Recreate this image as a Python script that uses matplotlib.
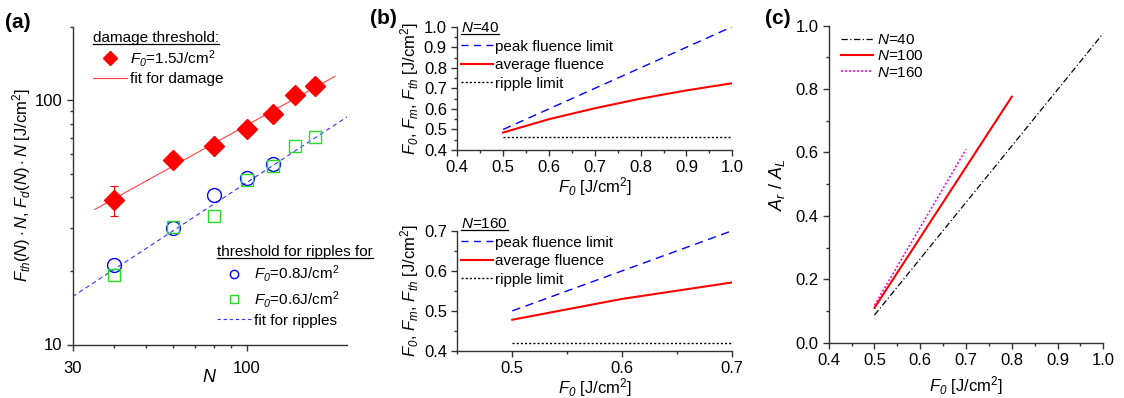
import numpy as np
import matplotlib
matplotlib.use("Agg")
import matplotlib.pyplot as plt
from matplotlib.lines import Line2D
from matplotlib.ticker import MultipleLocator, NullFormatter, FixedLocator, FixedFormatter, FormatStrFormatter

plt.rcParams['font.family'] = ['Liberation Sans', 'DejaVu Sans']
plt.rcParams['mathtext.fontset'] = 'custom'
plt.rcParams['mathtext.rm'] = 'Liberation Sans'
plt.rcParams['mathtext.it'] = 'Liberation Sans:italic'
plt.rcParams['mathtext.sf'] = 'Liberation Sans:italic'
plt.rcParams['mathtext.bf'] = 'Liberation Sans:bold'
plt.rcParams['font.size'] = 11

# panel (a) data
N_pts = [40, 60, 80, 100, 120, 140, 160]
F_damage = [39, 57, 65, 76.5, 88, 105, 114]
F_damage_err = [5.5, 4, 2.5, 2.5, 2.5, 2.5, 2.5]
N_r08 = [40, 60, 80, 100, 120]
F_r08 = [21.2, 30, 41, 47.8, 54.7]
N_r06 = [40, 60, 80, 100, 120, 140, 160]
F_r06 = [19.3, 30.2, 33.5, 47.3, 53.8, 64.7, 70.3]
fit_dmg_N = [35, 184]
fit_dmg_F = [35.7, 125]
fit_rip_N = [30, 200]
fit_rip_F = [15.7, 85.3]

# panel (b) data
F0_40 = [0.5, 0.6, 0.7, 0.8, 0.9, 1.0]
peak_40 = [0.5, 0.6, 0.7, 0.8, 0.9, 1.0]
avg_40 = [0.485, 0.55, 0.603, 0.65, 0.69, 0.725]
ripple_40 = [0.465, 0.465, 0.465, 0.465, 0.465, 0.465]
F0_160 = [0.5, 0.6, 0.7]
peak_160 = [0.5, 0.6, 0.7]
avg_160 = [0.478, 0.53, 0.571]
ripple_160 = [0.42, 0.42, 0.42]

# panel (c) data
F0_c40 = [0.5, 1.0]
A_c40 = [0.087, 0.976]
F0_c100 = [0.5, 0.8]
A_c100 = [0.11, 0.776]
F0_c160 = [0.5, 0.7]
A_c160 = [0.118, 0.61]

W, H = 1124, 398
fig = plt.figure(figsize=(W / 100, H / 100), dpi=100)


def px_axes(left, top, right, bottom):
    return fig.add_axes([left / W, 1 - bottom / H, (right - left) / W, (bottom - top) / H])


def style(ax):
    for s in ['top', 'right']:
        ax.spines[s].set_visible(False)
    for s in ['left', 'bottom']:
        ax.spines[s].set_linewidth(1.0)
        ax.spines[s].set_color('#333333')
    ax.tick_params(which='major', direction='out', length=4, width=1.0, colors='#333333',
                   labelcolor='black', labelsize=12)
    ax.tick_params(which='minor', direction='out', length=2.5, width=1.0, colors='#333333')


def put_legend(ax, handles, labels, left, top, title=None, **kw):
    # legend placed by its top-left corner, in figure pixels
    opts = dict(loc='upper left', bbox_to_anchor=(left / W, 1 - top / H),
                bbox_transform=fig.transFigure, frameon=False, fontsize=11,
                borderpad=0, borderaxespad=0, alignment='left')
    opts.update(kw)
    return ax.legend(handles, labels, title=title, title_fontsize=11, **opts)


FJ = r'[J/cm$^2$]'
F0 = r'$F_{\mathsf{0}}$'
legends = []

# ---------------- (a) ----------------
ax = px_axes(72.5, 26.5, 347, 344.5)
style(ax)
ax.set_xscale('log')
ax.set_yscale('log')
ax.errorbar(N_pts, F_damage, yerr=F_damage_err, fmt='none', ecolor='red', elinewidth=0.8,
            capsize=3, capthick=0.8)
ax.plot(fit_dmg_N, fit_dmg_F, '-', color='#ff4040', lw=0.8)
ax.plot(fit_rip_N, fit_rip_F, '--', color='#3333ff', lw=0.8, dashes=(4, 3))
ax.plot(N_pts, F_damage, 'D', color='red', ms=10, mec='red')
ax.plot(N_r08, F_r08, 'o', mfc='none', mec='blue', ms=10, mew=1.0)
ax.plot(N_r06, F_r06, 's', mfc='none', mec='#22dd22', ms=9, mew=1.0)
ax.set_xlim(30, 200)
ax.set_ylim(10, 200)
ax.xaxis.set_major_locator(FixedLocator([30, 100]))
ax.xaxis.set_major_formatter(FixedFormatter(['30', '100']))
ax.xaxis.set_minor_locator(FixedLocator([40, 50, 60, 70, 80, 90]))
ax.xaxis.set_minor_formatter(NullFormatter())
ax.yaxis.set_major_locator(FixedLocator([10, 100]))
ax.yaxis.set_major_formatter(FixedFormatter(['10', '100']))
ax.yaxis.set_minor_locator(FixedLocator([20, 30, 40, 50, 60, 70, 80, 90, 200]))
ax.yaxis.set_minor_formatter(NullFormatter())
ax.tick_params(axis='x', which='major', pad=8)
ax.set_xlabel(r'$N$', fontsize=13, labelpad=-5)
ax.set_ylabel(r'$F_{th}(N)\cdot N$, $F_d(N)\cdot N$ ' + FJ, fontsize=12, labelpad=1)

h1 = [Line2D([], [], marker='D', ls='none', color='red', ms=7),
      Line2D([], [], color='#ff4040', lw=0.8)]
leg1 = put_legend(ax, h1, [F0 + r'=1.5J/cm$^2$', 'fit for damage'], 93, 31,
                  title='damage threshold:', handlelength=2.2, handletextpad=0.2,
                  labelspacing=0.2)
ax.add_artist(leg1)
legends.append(leg1)
h2 = [Line2D([], [], marker='o', ls='none', mfc='none', mec='blue', ms=6),
      Line2D([], [], marker='s', ls='none', mfc='none', mec='#22dd22', ms=5.5),
      Line2D([], [], ls='--', color='#3333ff', lw=0.8, dashes=(3, 2.5))]
leg2 = put_legend(ax, h2, [F0 + r'=0.8J/cm$^2$', F0 + r'=0.6J/cm$^2$', 'fit for ripples'],
                  217, 245, title='threshold for ripples for', handlelength=2.2,
                  handletextpad=0.2, labelspacing=0.28)
legends.append(leg2)
fig.text(5 / W, 1 - 22 / H, '(a)', fontsize=15, fontweight='bold', va='center')

# ---------------- (b) top ----------------
ylab_b = F0 + r', $F_m$, $F_{th}$ ' + FJ
axb = px_axes(457.3, 26.7, 732.3, 150)
style(axb)
axb.plot(F0_40, peak_40, color='blue', lw=1.0, dashes=(6, 4))
axb.plot(F0_40, avg_40, color='red', lw=1.5)
axb.plot(F0_40, ripple_40, color='black', lw=1.0, dashes=(1.5, 1.5))
axb.set_xlim(0.4, 1.0)
axb.set_ylim(0.4, 1.0)
axb.xaxis.set_major_locator(MultipleLocator(0.1))
axb.xaxis.set_minor_locator(MultipleLocator(0.05))
axb.yaxis.set_major_locator(MultipleLocator(0.1))
axb.yaxis.set_minor_locator(MultipleLocator(0.05))
axb.xaxis.set_major_formatter(FormatStrFormatter('%.1f'))
axb.yaxis.set_major_formatter(FormatStrFormatter('%.1f'))
axb.set_xlabel(F0 + ' ' + FJ, fontsize=12, labelpad=0)
axb.set_ylabel(ylab_b, fontsize=12, labelpad=2)
hb = [Line2D([], [], color='blue', lw=1.0, dashes=(5, 4)),
      Line2D([], [], color='red', lw=1.5),
      Line2D([], [], color='black', lw=1.0, dashes=(1.5, 1.5))]
lb = ['peak fluence limit', 'average fluence', 'ripple limit']
legb = put_legend(axb, hb, lb, 461, 21, title=r'$N$=40', handlelength=2.1,
                  handletextpad=0.15, labelspacing=0.3)
legends.append(legb)
fig.text(370 / W, 1 - 18 / H, '(b)', fontsize=15, fontweight='bold', va='center')

# ---------------- (b) bottom ----------------
axb2 = px_axes(457.3, 230.7, 732.3, 351)
style(axb2)
axb2.plot(F0_160, peak_160, color='blue', lw=1.0, dashes=(6, 4))
axb2.plot(F0_160, avg_160, color='red', lw=1.5)
axb2.plot(F0_160, ripple_160, color='black', lw=1.0, dashes=(1.5, 1.5))
axb2.set_xlim(0.45, 0.7)
axb2.set_ylim(0.4, 0.7)
axb2.xaxis.set_major_locator(MultipleLocator(0.1))
axb2.xaxis.set_minor_locator(MultipleLocator(0.05))
axb2.yaxis.set_major_locator(MultipleLocator(0.1))
axb2.yaxis.set_minor_locator(MultipleLocator(0.05))
axb2.xaxis.set_major_formatter(FormatStrFormatter('%.1f'))
axb2.yaxis.set_major_formatter(FormatStrFormatter('%.1f'))
axb2.set_xlabel(F0 + ' ' + FJ, fontsize=12, labelpad=0)
axb2.set_ylabel(ylab_b, fontsize=12, labelpad=2)
legb2 = put_legend(axb2, hb, lb, 461, 217, title=r'$N$=160', handlelength=2.1,
                   handletextpad=0.15, labelspacing=0.3)
legends.append(legb2)

# ---------------- (c) ----------------
axc = px_axes(828.7, 25.7, 1103.3, 342.7)
style(axc)
axc.plot(F0_c40, A_c40, color='black', lw=0.9, dashes=(5, 2, 1, 2))
axc.plot(F0_c100, A_c100, color='red', lw=1.5)
axc.plot(F0_c160, A_c160, color='magenta', lw=1.2, dashes=(1.2, 1.2))
axc.set_xlim(0.4, 1.0)
axc.set_ylim(0.0, 1.0)
axc.xaxis.set_major_locator(MultipleLocator(0.1))
axc.xaxis.set_minor_locator(MultipleLocator(0.05))
axc.yaxis.set_major_locator(MultipleLocator(0.2))
axc.yaxis.set_minor_locator(MultipleLocator(0.1))
axc.xaxis.set_major_formatter(FormatStrFormatter('%.1f'))
axc.yaxis.set_major_formatter(FormatStrFormatter('%.1f'))
axc.set_xlabel(F0 + ' ' + FJ, fontsize=12, labelpad=4)
axc.set_ylabel(r'$A_r$ / $A_L$', fontsize=13, labelpad=6)
hc = [Line2D([], [], color='black', lw=0.9, dashes=(5, 2, 1, 2)),
      Line2D([], [], color='red', lw=1.5),
      Line2D([], [], color='magenta', lw=1.2, dashes=(1.2, 1.2))]
put_legend(axc, hc, [r'$N$=40', r'$N$=100', r'$N$=160'], 841, 33,
           handlelength=2.1, handletextpad=0.25, labelspacing=0.15)
fig.text(765 / W, 1 - 18 / H, '(c)', fontsize=15, fontweight='bold', va='center')

# underline the legend titles
fig.canvas.draw()
renderer = fig.canvas.get_renderer()
for leg in legends:
    bb = leg.get_title().get_window_extent(renderer)
    y = bb.y0 + 1
    fig.add_artist(Line2D([bb.x0 / W, bb.x1 / W], [y / H, y / H], transform=fig.transFigure,
                          color='black', lw=0.9))

fig.savefig('out.png', dpi=100)
